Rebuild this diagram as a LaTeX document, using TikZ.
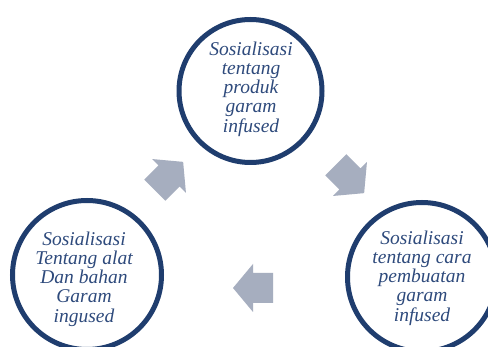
\documentclass[tikz,border=0pt]{standalone}
\usepackage{fontspec}
\setmainfont{Liberation Serif}
\begin{document}
\begin{tikzpicture}[x=1pt,y=-1pt]
\definecolor{ringblue}{HTML}{1F3D6E}
\definecolor{textblue}{HTML}{2E4A7C}
\definecolor{arrowgray}{HTML}{A6AEBF}
\tikzset{
  ring/.style={circle, draw=ringblue, line width=5pt, fill=white, minimum size=149pt, inner sep=0pt},
  label/.style={text=textblue, align=center, font=\fontsize{19.5}{19.2}\selectfont\itshape},
  flowarrow/.pic={\fill[arrowgray] (-20,-15) -- (0,-15) -- (0,-24) -- (20,0) -- (0,24) -- (0,15) -- (-20,15) -- cycle;}
}
\useasboundingbox (0,0) rectangle (488,347);
\fill[white] (0,0) rectangle (488,347);
\node[ring, minimum size=143pt] (top) at (250.5,91) {};
\node[ring] (left) at (87,275) {};
\node[ring] (right) at (422,277) {};
\node[label] (ttop) at (251,89) {Sosialisasi\\tentang\\produk\\garam\\infused};
\node[label] (tleft) at (84,279) {Sosialisasi\\Tentang alat\\Dan bahan\\Garam\\ingused};
\node[label] (tright) at (422,278) {Sosialisasi\\tentang cara\\pembuatan\\garam\\infused};
\pic[rotate=45] (a1) at (169,176) {flowarrow};
\pic[rotate=-45] (a2) at (350,179) {flowarrow};
\pic[rotate=180] (a3) at (253,288) {flowarrow};
\end{tikzpicture}
\end{document}
